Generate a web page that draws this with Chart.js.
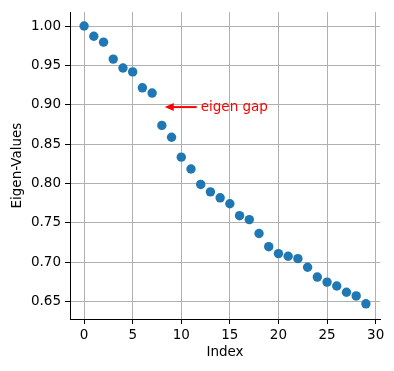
<!DOCTYPE html>
<html>
<head>
<meta charset="utf-8">
<script src="https://cdn.jsdelivr.net/npm/chart.js@4.4.1/dist/chart.umd.min.js"></script>
<style>
  html, body { margin: 0; padding: 0; background: #fff; }
</style>
</head>
<body>
<canvas id="eigenChart" width="394" height="371"></canvas>
<script>
// eigen values by index
const indexes = [0, 1, 2, 3, 4, 5, 6, 7, 8, 9, 10, 11, 12, 13, 14, 15, 16, 17, 18, 19, 20, 21, 22, 23, 24, 25, 26, 27, 28, 29];
const eigenValues = [1.000, 0.987, 0.9795, 0.958, 0.9467, 0.9417, 0.9215, 0.9148, 0.8737, 0.8586,
  0.8334, 0.8183, 0.7987, 0.7893, 0.7817, 0.7742, 0.759, 0.754, 0.7364, 0.7196,
  0.7108, 0.7074, 0.7044, 0.6935, 0.681, 0.6746, 0.6696, 0.6617, 0.657, 0.647];
const xTicks = [0, 5, 10, 15, 20, 25, 30];
const yTicks = [0.65, 0.70, 0.75, 0.80, 0.85, 0.90, 0.95, 1.00];

// annotation
const gapLabel = 'eigen gap';
const gapPoint = [8.3, 0.897];
const gapText = [12, 0.897];

const font = { family: 'DejaVu Sans', size: 13.5 };

const annotate = {
  id: 'annotate',
  afterDraw(chart) {
    const { ctx, scales } = chart;
    const hx = scales.x.getPixelForValue(gapPoint[0]);
    const hy = scales.y.getPixelForValue(gapPoint[1]);
    const tx = scales.x.getPixelForValue(gapText[0]);
    const ty = scales.y.getPixelForValue(gapText[1]);
    ctx.save();
    ctx.strokeStyle = 'red';
    ctx.fillStyle = 'red';
    ctx.lineWidth = 2;
    ctx.beginPath();
    ctx.moveTo(tx - 4, ty);
    ctx.lineTo(hx + 6, hy);
    ctx.stroke();
    ctx.beginPath();
    ctx.moveTo(hx, hy);
    ctx.lineTo(hx + 9, hy - 4);
    ctx.lineTo(hx + 9, hy + 4);
    ctx.closePath();
    ctx.fill();
    ctx.font = font.size + 'px ' + font.family;
    ctx.textAlign = 'left';
    ctx.textBaseline = 'middle';
    ctx.fillText(gapLabel, tx, ty);
    ctx.restore();
  }
};

const gridOpts = { color: '#b0b0b0', lineWidth: 1, tickColor: '#000', tickLength: 5, drawTicks: true };

new Chart(document.getElementById('eigenChart'), {
  type: 'scatter',
  data: {
    datasets: [{
      data: indexes.map((x, i) => ({ x: x, y: eigenValues[i] })),
      backgroundColor: '#1f77b4',
      borderColor: '#1f77b4',
      borderWidth: 0,
      pointRadius: 4.7,
      pointHoverRadius: 4.7
    }]
  },
  options: {
    responsive: false,
    devicePixelRatio: 1,
    animation: false,
    layout: { padding: { top: 10, right: 14, left: 0, bottom: 0 } },
    plugins: { legend: { display: false }, tooltip: { enabled: false } },
    scales: {
      x: {
        type: 'linear',
        min: -1.45,
        max: 30.45,
        z: 1,
        afterBuildTicks: s => { s.ticks = xTicks.map(v => ({ value: v })); },
        afterFit: s => { s.height = 52; },
        grid: gridOpts,
        border: { display: true, color: '#000', width: 1 },
        ticks: { font: font, color: '#000', padding: 3, maxRotation: 0, callback: v => v },
        title: { display: true, text: 'Index', font: font, color: '#000', padding: { top: 0, bottom: 10 } }
      },
      y: {
        type: 'linear',
        min: 0.6277,
        max: 1.0177,
        z: 1,
        afterBuildTicks: s => { s.ticks = yTicks.map(v => ({ value: v })); },
        afterFit: s => { s.width = 70; },
        grid: gridOpts,
        border: { display: true, color: '#000', width: 1 },
        ticks: { font: font, color: '#000', padding: 4, callback: v => Number(v).toFixed(2) },
        title: { display: true, text: 'Eigen-Values', font: font, color: '#000', padding: { top: 9, bottom: 0 } }
      }
    }
  },
  plugins: [annotate]
});
</script>
</body>
</html>
